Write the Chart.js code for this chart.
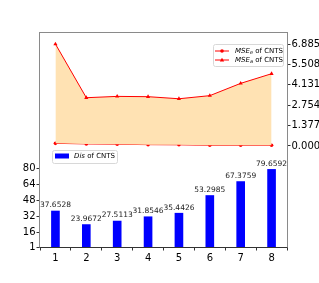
<!DOCTYPE html>
<html><head><meta charset="utf-8">
<script src="https://cdn.jsdelivr.net/npm/chart.js@4/dist/chart.umd.min.js"></script>
<style>html,body{margin:0;padding:0;background:#fff}#wrap{width:319px;height:283px;position:relative}</style>
</head><body><div id="wrap"><canvas id="c" width="319" height="283"></canvas></div>
<script>
const categories = ['1','2','3','4','5','6','7','8'];
const disValues = [37.6528, 23.9672, 27.5113, 31.8546, 35.4426, 53.2985, 67.3759, 79.6592];
const mseE = [0.18, 0.14, 0.12, 0.09, 0.08, 0.05, 0.05, 0.05];
const mseA = [6.885, 3.26, 3.35, 3.33, 3.19, 3.40, 4.23, 4.88];
const leftTicks = [1, 16, 32, 48, 64, 80];
const rightTicks = [0, 1.377, 2.754, 4.131, 5.508, 6.885];
const barLabels = ['37.6528','23.9672','27.5113','31.8546','35.4426','53.2985','67.3759','79.6592'];

const FONT = "'DejaVu Sans'";

const framePlugin = {
  id: 'frame',
  afterDatasetsDraw(chart) {
    const ctx = chart.ctx, a = chart.chartArea;
    ctx.save();
    const meta = chart.getDatasetMeta(0);
    ctx.font = "7.5px " + FONT;
    ctx.fillStyle = '#222';
    ctx.textAlign = 'center';
    ctx.textBaseline = 'bottom';
    meta.data.forEach((el, i) => {
      ctx.fillText(barLabels[i], el.x, el.y - 1.5);
    });
    ctx.lineWidth = 1;
    ctx.strokeStyle = '#8a8a8a';
    ctx.strokeRect(Math.round(a.left) - 0.5, Math.round(a.top) - 0.5, Math.round(a.right - a.left) + 1, Math.round(a.bottom - a.top) + 1);
    ctx.strokeStyle = '#333';
    ctx.beginPath();
    ctx.moveTo(Math.round(a.left) - 0.5, Math.round(a.bottom) + 0.5);
    ctx.lineTo(Math.round(a.right) + 0.5, Math.round(a.bottom) + 0.5);
    ctx.stroke();
    ctx.restore();
  },
  afterDraw(chart) {
    const ctx = chart.ctx;
    ctx.save();
    function box(x, y, w, h) {
      ctx.fillStyle = 'rgba(255,255,255,0.85)';
      ctx.strokeStyle = '#d8d8d8';
      ctx.lineWidth = 1;
      ctx.beginPath();
      ctx.roundRect(x + 0.5, y + 0.5, w, h, 2);
      ctx.fill();
      ctx.stroke();
    }
    function mathLabel(x, y, main, sub, rest) {
      ctx.textBaseline = 'middle';
      ctx.textAlign = 'left';
      ctx.fillStyle = '#000';
      ctx.font = "italic 7px " + FONT;
      ctx.fillText(main, x, y);
      let cx = x + ctx.measureText(main).width;
      if (sub) {
        ctx.font = "italic 5px " + FONT;
        ctx.fillText(sub, cx, y + 2);
        cx += ctx.measureText(sub).width;
      }
      ctx.font = "7px " + FONT;
      ctx.fillText(rest, cx, y);
    }
    box(213, 44, 70, 22);
    ctx.lineWidth = 1;
    [51, 60].forEach((yy, i) => {
      ctx.strokeStyle = 'red';
      ctx.beginPath(); ctx.moveTo(215, yy); ctx.lineTo(229, yy); ctx.stroke();
      ctx.fillStyle = 'red';
      ctx.beginPath();
      if (i === 0) { ctx.arc(222, yy, 1.8, 0, Math.PI * 2); }
      else { ctx.moveTo(222, yy - 2.2); ctx.lineTo(224.2, yy + 1.6); ctx.lineTo(219.8, yy + 1.6); ctx.closePath(); }
      ctx.fill();
    });
    mathLabel(235, 51, 'MSE', 'e', ' of CNTS');
    mathLabel(235, 60, 'MSE', 'a', ' of CNTS');
    box(52, 150, 65, 13);
    ctx.fillStyle = '#0000ff';
    ctx.fillRect(55, 153.5, 14, 5);
    mathLabel(74, 156.5, 'Dis', '', ' of CNTS');
    ctx.restore();
  }
};

new Chart(document.getElementById('c'), {
  type: 'bar',
  data: {
    labels: categories,
    datasets: [
      {
        type: 'bar', label: 'Dis of CNTS', data: disValues, yAxisID: 'y',
        backgroundColor: '#0000ff', borderWidth: 0,
        barPercentage: 0.28, categoryPercentage: 1, order: 3
      },
      {
        type: 'line', label: 'MSE_e of CNTS', data: mseE, yAxisID: 'y1',
        borderColor: '#ff0000', borderWidth: 1, pointStyle: 'circle', pointRadius: 1.8,
        pointBackgroundColor: '#ff0000', pointBorderWidth: 0, fill: false, tension: 0, order: 2
      },
      {
        type: 'line', label: 'MSE_a of CNTS', data: mseA, yAxisID: 'y1',
        borderColor: '#ff0000', borderWidth: 1, pointStyle: 'triangle', pointRadius: 2.4,
        pointBackgroundColor: '#ff0000', pointBorderWidth: 0,
        backgroundColor: '#ffe2b3', fill: '-1', tension: 0, order: 1
      }
    ]
  },
  options: {
    responsive: false, animation: false, devicePixelRatio: 1,
    layout: { padding: { top: 33, left: 0, right: 0, bottom: 0 } },
    plugins: { legend: { display: false }, tooltip: { enabled: false }, filler: { propagate: false } },
    scales: {
      x: {
        type: 'category', offset: true,
        grid: { display: true, drawOnChartArea: false, drawTicks: true, tickLength: 3.5, color: '#333' },
        border: { display: false },
        ticks: { font: { family: FONT, size: 10 }, color: '#000', padding: 2, maxRotation: 0 },
        afterFit(s) { s.height = 36; }
      },
      y: {
        position: 'left', min: 1, max: 217,
        afterBuildTicks(s) { s.ticks = leftTicks.map(v => ({ value: v })); },
        grid: { display: true, drawOnChartArea: false, drawTicks: true, tickLength: 3.5, color: '#333' },
        border: { display: false },
        ticks: { font: { family: FONT, size: 10 }, color: '#000', padding: 1 },
        afterFit(s) { s.width = 40; }
      },
      y1: {
        position: 'right', min: -6.82, max: 7.63,
        afterBuildTicks(s) { s.ticks = rightTicks.map(v => ({ value: v })); },
        grid: { display: true, drawOnChartArea: false, drawTicks: true, tickLength: 3.5, color: '#333' },
        border: { display: false },
        ticks: { font: { family: FONT, size: 10 }, color: '#000', padding: 1, callback: v => Number(v).toFixed(3) },
        afterFit(s) { s.width = 32; }
      }
    }
  },
  plugins: [framePlugin]
});
</script>
</body></html>
